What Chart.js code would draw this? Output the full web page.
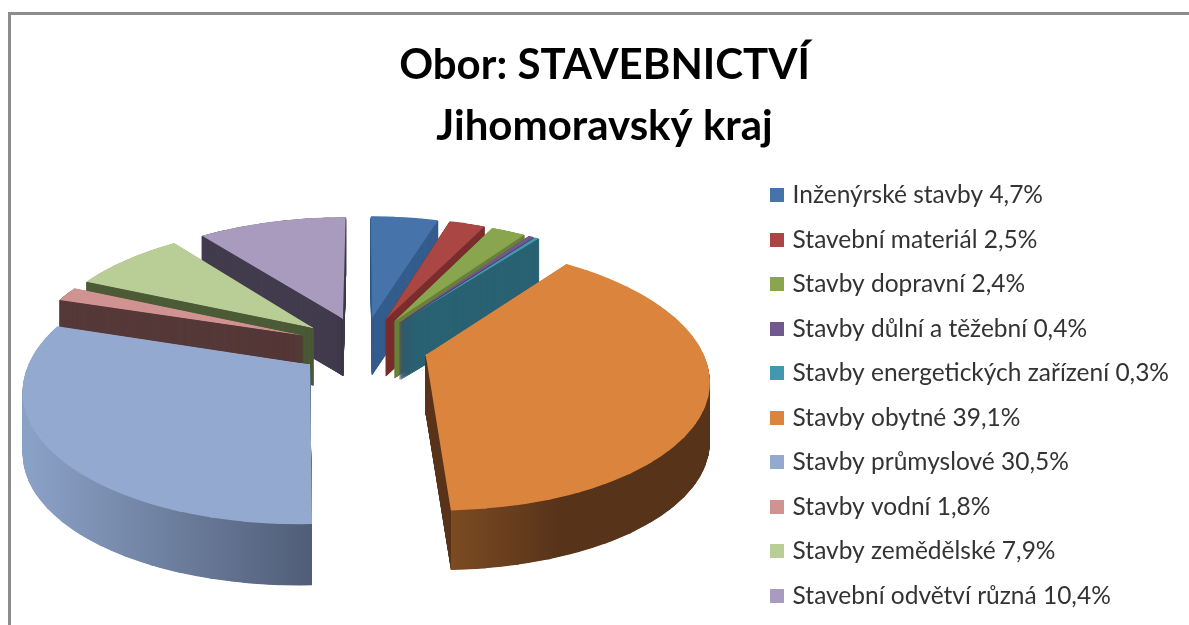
<!DOCTYPE html>
<html>
<head>
<meta charset="utf-8">
<script src="https://cdn.jsdelivr.net/npm/chart.js@4"></script>
<style>
  html, body { margin: 0; background: #fff; overflow: hidden; }
  #frame { position: absolute; left: 8px; top: 12px; width: 1200px; height: 640px; border: 3px solid #8c8c8c; }
  canvas { position: absolute; left: 0; top: 0; }
</style>
</head>
<body>
<div id="frame"></div>
<canvas id="pie" width="1189" height="625"></canvas>
<script>
// data
const categories = ['Inženýrské stavby', 'Stavební materiál', 'Stavby dopravní', 'Stavby důlní a těžební',
    'Stavby energetických zařízení', 'Stavby obytné', 'Stavby průmyslové', 'Stavby vodní',
    'Stavby zemědělské', 'Stavební odvětví různá'];
const shares = [4.7, 2.5, 2.4, 0.4, 0.3, 39.1, 30.5, 1.8, 7.9, 10.4];
const topColors = ['#4674AA', '#AA4643', '#89A54E', '#71588F', '#4198AF', '#DB843D', '#93A9CF', '#D19392', '#B9CD96', '#A99BBD'];
const wallColors = ['#355E8E', '#7B2F2E', '#6A813A', '#4F3D66', '#2B6373', '#58331A', '#505D77', '#563A39', '#4D5C38', '#433D4F'];

const labels = categories.map((name, i) => name + ' ' + shares[i].toFixed(1).replace('.', ',') + '%');

// the flat pie is pushed through this perspective view
const view = { cx: 363, cy: 346, tilt: 0.46, persp: 0.0006, radius: 275, explode: 65, depth: 58 };
const WEDGE = Math.PI / 30;

function project(x, y) {
    const s = 1 / (1 - view.persp * y);
    return { x: view.cx + s * x, y: view.cy + s * view.tilt * y };
}

// canvas gradient is set in arc space, so work out the points that give a screen-x gradient
function screenGradient(ctx, m, arc, x0, x1, stops) {
    const gx = m.a / (x1 - x0), gy = m.c / (x1 - x0), h = (m.e - x0) / (x1 - x0);
    const n = gx * gx + gy * gy;
    const px = -h * gx / n + arc.x, py = -h * gy / n + arc.y;
    const g = ctx.createLinearGradient(px, py, px + gx / n, py + gy / n);
    stops.forEach(s => g.addColorStop(s[0], s[1]));
    return g;
}

function wallStops(i, arc) {
    const ex = explodeOffset(arc);
    if (i === 5) { // Stavby obytné
        const xe = project(ex.x + view.radius * Math.cos(arc.endAngle), ex.y + view.radius * Math.sin(arc.endAngle)).x;
        return { x0: xe - 30, x1: xe + 120, stops: [[0, '#58331A'], [0.2, '#58331A'], [0.2, '#7C4B22'], [0.93, '#57331A'], [1, '#57331A']] };
    }
    if (i === 6) { // Stavby průmyslové
        return { x0: 30, x1: 312, stops: [[0, '#8AA1C6'], [1, '#505D77']] };
    }
    return null;
}

function explodeOffset(arc) {
    const mid = (arc.startAngle + arc.endAngle) / 2;
    return { x: Math.cos(mid) * view.explode, y: Math.sin(mid) * view.explode };
}

// draws one arc element wedge by wedge, each wedge with its own affine fit of the perspective
function drawArc(ctx, arc, lift, fill) {
    const orig = arc.options;
    const opts = Object.create(orig);
    opts.offset = 0;
    // plain walls get a thin same colour stroke, thin slivers stay solid that way
    const solid = typeof fill === 'string';
    opts.borderWidth = solid ? 1.2 : 0;
    opts.borderColor = solid ? fill : orig.borderColor;
    arc.options = opts;

    const e = explodeOffset(arc);
    const p0 = project(e.x, e.y);
    const span = arc.endAngle - arc.startAngle;
    const n = Math.max(1, Math.ceil(span / WEDGE));
    const r = view.radius;
    const eps = 0.004;

    for (let k = 0; k < n; k++) {
        const a0 = arc.startAngle + span * k / n;
        const a1 = arc.startAngle + span * (k + 1) / n;
        const u0 = { x: r * Math.cos(a0), y: r * Math.sin(a0) };
        const u1 = { x: r * Math.cos(a1), y: r * Math.sin(a1) };
        const q0 = project(e.x + u0.x, e.y + u0.y);
        const q1 = project(e.x + u1.x, e.y + u1.y);
        const v0 = { x: q0.x - p0.x, y: q0.y - p0.y };
        const v1 = { x: q1.x - p0.x, y: q1.y - p0.y };
        const det = u0.x * u1.y - u1.x * u0.y;
        const m = {
            a: (v0.x * u1.y - v1.x * u0.y) / det,
            c: (v1.x * u0.x - v0.x * u1.x) / det,
            b: (v0.y * u1.y - v1.y * u0.y) / det,
            d: (v1.y * u0.x - v0.y * u1.x) / det,
            e: p0.x,
            f: p0.y + lift
        };
        ctx.save();
        ctx.transform(m.a, m.b, m.c, m.d, m.e, m.f);
        // clip to the wedge, apex pulled back and a hair wider so no seams show
        const far = r * 1.4;
        const am = (a0 + a1) / 2;
        const wide = solid ? 0.02 : eps;
        ctx.beginPath();
        ctx.moveTo(-14 * Math.cos(am), -14 * Math.sin(am));
        ctx.lineTo(far * Math.cos(a0 - wide), far * Math.sin(a0 - wide));
        ctx.lineTo(far * Math.cos(a1 + wide), far * Math.sin(a1 + wide));
        ctx.closePath();
        ctx.clip();
        ctx.translate(-arc.x, -arc.y);
        opts.backgroundColor = fill ? (fill.stops ? screenGradient(ctx, m, arc, fill.x0, fill.x1, fill.stops) : fill) : orig.backgroundColor;
        arc.draw(ctx);
        ctx.restore();
    }
    arc.options = orig;
}

const pie3d = {
    id: 'pie3d',
    beforeDatasetDraw(chart, args) {
        const ctx = chart.ctx;
        const arcs = args.meta.data;
        // far slices first
        const order = arcs.map((arc, i) => i).sort((p, q) => {
            const mp = (arcs[p].startAngle + arcs[p].endAngle) / 2;
            const mq = (arcs[q].startAngle + arcs[q].endAngle) / 2;
            return Math.sin(mp) - Math.sin(mq);
        });
        order.forEach(i => {
            const arc = arcs[i];
            const e = explodeOffset(arc);
            const mid = (arc.startAngle + arc.endAngle) / 2;
            const rimY = e.y + view.radius * Math.sin(mid);
            const depth = view.depth + 0.016 * Math.max(e.y, rimY);
            const fill = wallStops(i, arc) || wallColors[i];
            for (let d = depth; d >= 0.5; d -= 0.5) {
                drawArc(ctx, arc, d, fill);
            }
            drawArc(ctx, arc, 0, null);
        });
        return false;
    }
};

// legend squares as small canvases, so they can sit closer to the text than the default gap
function legendSquare(color) {
    const c = document.createElement('canvas');
    c.width = 14;
    c.height = 14;
    const g = c.getContext('2d');
    g.fillStyle = color;
    g.fillRect(0, 0, 14, 14);
    return c;
}

new Chart(document.getElementById('pie').getContext('2d'), {
    type: 'pie',
    data: {
        labels: labels,
        datasets: [{
            data: shares,
            backgroundColor: topColors,
            borderWidth: 0,
            radius: view.radius,
            clip: false
        }]
    },
    options: {
        responsive: false,
        animation: false,
        events: [],
        layout: { padding: { left: 30, right: 10, top: 35, bottom: -3 } },
        plugins: {
            title: {
                display: true,
                text: ['Obor: STAVEBNICTVÍ', 'Jihomoravský kraj'],
                color: '#000',
                font: { family: 'Lato', size: 42, weight: 'bold', lineHeight: 1.45 },
                padding: { top: 0, bottom: 20 }
            },
            legend: {
                position: 'right',
                align: 'end',
                labels: {
                    color: '#333',
                    font: { family: 'Lato', size: 24.5 },
                    boxWidth: 6,
                    boxHeight: 14,
                    padding: 20,
                    usePointStyle: true,
                    generateLabels(chart) {
                        const items = Chart.overrides.pie.plugins.legend.labels.generateLabels(chart);
                        items.forEach((item, i) => { item.pointStyle = legendSquare(topColors[i]); });
                        return items;
                    }
                }
            },
            tooltip: { enabled: false }
        }
    },
    plugins: [pie3d]
});
</script>
</body>
</html>
